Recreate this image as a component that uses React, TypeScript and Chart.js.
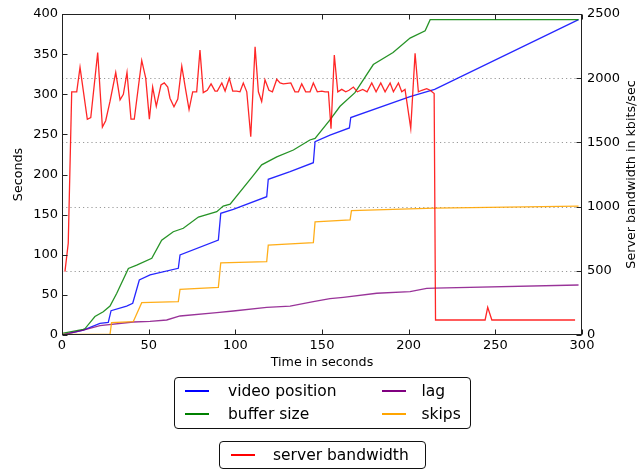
import React, { useEffect, useRef } from 'react';
import { Chart, registerables } from 'chart.js';

Chart.register(...registerables);

const FONT = '"DejaVu Sans", "Liberation Sans", sans-serif';

// ---- data ----
const videoT = [0, 12.3, 21.9, 26.7, 28.3, 37.3, 40.8, 44.6, 50.8, 67.1, 68.1, 90.2, 91.6, 98.8, 118.1, 119, 131.6, 145, 146, 154.6, 165.8, 166.6, 200.8, 215, 298];
const videoV = [0, 6.2, 14.5, 15.8, 30.3, 36.1, 39.5, 68.5, 74.8, 83.1, 99.7, 118.4, 151.6, 156.6, 172.3, 194, 203.5, 214.7, 241, 249, 258, 271, 297, 306, 393];

const bufferT = [0, 12.3, 13.3, 19, 23.8, 27.7, 31.6, 38.3, 43.1, 51.8, 57.5, 64.2, 70, 78.7, 89.3, 93, 97, 110.4, 115.2, 123.9, 133.5, 143, 146, 154.6, 160.4, 169, 179.6, 191, 200.8, 209.5, 212.4, 298];
const bufferV = [2, 7, 8, 23, 29, 36, 52, 83, 87, 95.5, 118, 128.7, 133, 147, 153.6, 160.7, 163, 199, 212, 222, 230.5, 243, 245, 268, 285, 302, 337, 352, 370, 379, 393, 393];

const lagT = [0, 12.3, 21.9, 41.1, 50.8, 60.4, 68.1, 89.3, 98.8, 118.1, 131.6, 145, 154.6, 162.3, 181.6, 200.8, 210.4, 215, 298];
const lagV = [0, 6.2, 11.6, 16.2, 17, 18.7, 23.7, 27.8, 29.9, 34.5, 36.1, 41.5, 45.3, 47, 52, 54, 58, 58.5, 62.3];

const skipsT = [0, 27.7, 28.6, 41.1, 46, 67.1, 68.1, 90.2, 91.6, 118.1, 119, 145, 146, 166.2, 167, 215, 298];
const skipsV = [0.8, 0.8, 15.4, 16.6, 40.3, 41.5, 57, 59.4, 90, 91.3, 112, 115, 141, 143.3, 155, 158, 160.7];

const bwT = [1.7, 3.6, 5.6, 8.5, 10.4, 14.6, 16.6, 20.6, 23.3, 25.2, 27.7, 31.0, 33.5, 35.4, 37.5, 39.8, 41.7, 46.0, 48.3, 50.4, 52.3, 54.4, 57.1, 59.0, 61.0, 62.3, 64.6, 66.8, 69.1, 71.4, 73.3, 75.4, 77.7, 79.6, 81.5, 83.8, 86.0, 88.3, 89.6, 92.2, 94.1, 96.5, 98.5, 100.8, 102.7, 104.6, 106.6, 108.9, 111.4, 113.3, 115.2, 117.1, 119.4, 121.4, 123.9, 125.8, 127.7, 130, 132, 134.4, 136.4, 138.3, 140.6, 143.1, 145, 147.3, 149.9, 151.8, 153.7, 155.2, 157.1, 159.1, 161.4, 163.7, 165.6, 168.1, 170.4, 173.5, 176, 178.7, 181.2, 183.9, 186.4, 189.3, 191.2, 194.1, 196, 197.9, 201.2, 203.7, 205.6, 207.6, 210.4, 212.4, 214.7, 215.5, 244.1, 245.6, 248, 296];
const bwV = [494, 714, 1894, 1894, 2085, 1680, 1694, 2200, 1619, 1669, 1819, 2044, 1831, 1875, 2044, 1681, 1681, 2138, 2000, 1681, 1931, 1781, 1947, 1963, 1931, 1844, 1778, 1838, 2094, 1906, 1756, 1894, 1894, 2219, 1888, 1906, 1956, 1900, 1900, 1963, 1900, 2000, 1900, 1900, 1894, 1963, 1894, 1544, 2244, 1894, 1819, 1988, 1906, 1894, 1991, 1963, 1956, 1960, 1963, 1894, 1894, 1956, 1894, 1894, 1963, 1894, 1900, 1894, 1894, 1606, 2181, 1894, 1913, 1894, 1906, 1931, 1894, 1913, 1894, 1963, 1894, 1963, 1894, 1963, 1894, 1963, 1894, 1913, 1610, 2194, 1894, 1906, 1919, 1906, 1881, 117, 117, 216, 117, 117];

const xTickValues = [0, 50, 100, 150, 200, 250, 300];
const leftTickValues = [0, 50, 100, 150, 200, 250, 300, 350, 400];
const rightTickValues = [0, 500, 1000, 1500, 2000, 2500];
const rightGridValues = [500, 1000, 1500, 2000];

const xTitle = 'Time in seconds';
const leftTitle = 'Seconds';
const rightTitle = 'Server bandwidth in kbits/sec';

const legendRows1 = [
  { label: 'video position', color: '#0000ff' },
  { label: 'buffer size', color: '#008000' },
];
const legendRows2 = [
  { label: 'lag', color: '#800080' },
  { label: 'skips', color: '#ffa500' },
];
const legendBw = { label: 'server bandwidth', color: '#ff0000' };

const zip = (t: number[], v: number[]) => t.map((x, i) => ({ x, y: v[i] }));

const decorPlugin = {
  id: 'decor',
  beforeDatasetsDraw(chart: any) {
    const { ctx, chartArea: a, scales } = chart;
    ctx.save();
    ctx.strokeStyle = '#9a9a9a';
    ctx.lineWidth = 1;
    ctx.setLineDash([1.2, 3]);
    for (const v of rightGridValues) {
      const y = Math.round(scales.yR.getPixelForValue(v)) + 0.5;
      ctx.beginPath();
      ctx.moveTo(a.left, y);
      ctx.lineTo(a.right, y);
      ctx.stroke();
    }
    ctx.restore();
  },
  afterDatasetsDraw(chart: any) {
    const { ctx, chartArea: a, scales } = chart;
    ctx.save();
    ctx.strokeStyle = '#222';
    ctx.lineWidth = 1;
    const L = Math.round(a.left) + 0.5, R = Math.round(a.right) - 0.5;
    const T = Math.round(a.top) + 0.5, B = Math.round(a.bottom) - 0.5;
    ctx.strokeRect(L, T, R - L, B - T);
    const len = 5;
    ctx.beginPath();
    for (const v of xTickValues) {
      const x = Math.round(scales.x.getPixelForValue(v)) + 0.5;
      ctx.moveTo(x, B); ctx.lineTo(x, B - len);
      ctx.moveTo(x, T); ctx.lineTo(x, T + len);
    }
    for (const v of leftTickValues) {
      const y = Math.round(scales.y.getPixelForValue(v)) + 0.5;
      ctx.moveTo(L, y); ctx.lineTo(L + len, y);
    }
    for (const v of rightTickValues) {
      const y = Math.round(scales.yR.getPixelForValue(v)) + 0.5;
      ctx.moveTo(R, y); ctx.lineTo(R - len, y);
    }
    ctx.stroke();
    ctx.restore();
  },
  afterDraw(chart: any) {
    const { ctx, chartArea: a } = chart;
    ctx.save();
    ctx.fillStyle = '#000';
    ctx.font = `12.7px ${FONT}`;
    ctx.textAlign = 'center';
    ctx.textBaseline = 'middle';
    ctx.fillText(xTitle, (a.left + a.right) / 2, 363);
    const midY = (a.top + a.bottom) / 2;
    ctx.save();
    ctx.translate(18.5, midY);
    ctx.rotate(-Math.PI / 2);
    ctx.fillText(leftTitle, 0, 0);
    ctx.restore();
    ctx.save();
    ctx.translate(631.5, midY);
    ctx.rotate(-Math.PI / 2);
    ctx.fillText(rightTitle, 0, 0);
    ctx.restore();
    ctx.restore();
  },
};

function LegendLine({ x, y, color }: { x: number; y: number; color: string }) {
  return <div style={{ position: 'absolute', left: x, top: y - 0.75, width: 24, height: 1.5, background: color }} />;
}

function LegendText({ x, y, text }: { x: number; y: number; text: string }) {
  return (
    <div style={{ position: 'absolute', left: x, top: y - 10, height: 20, lineHeight: '20px', fontFamily: FONT, fontSize: 15.5, color: '#000', whiteSpace: 'nowrap' }}>
      {text}
    </div>
  );
}

export default function App() {
  const ref = useRef<HTMLCanvasElement | null>(null);

  useEffect(() => {
    if (!ref.current) return;
    const tickFont = { family: FONT, size: 13 };
    const plain = (v: any) => String(v);
    const line = (label: string, data: any, color: string, axis: string) => ({
      label,
      data,
      borderColor: color,
      backgroundColor: color,
      borderWidth: 1.3,
      pointRadius: 0,
      tension: 0,
      fill: false,
      yAxisID: axis,
    });
    const chart = new Chart(ref.current, {
      type: 'line',
      data: {
        datasets: [
          line('server bandwidth', zip(bwT, bwV), 'rgba(255,0,0,0.85)', 'yR'),
          line('skips', zip(skipsT, skipsV), 'rgba(255,165,0,0.9)', 'y'),
          line('lag', zip(lagT, lagV), 'rgba(128,0,128,0.8)', 'y'),
          line('buffer size', zip(bufferT, bufferV), 'rgba(0,128,0,0.85)', 'y'),
          line('video position', zip(videoT, videoV), 'rgba(0,0,255,0.85)', 'y'),
        ],
      },
      options: {
        animation: false,
        responsive: false,
        maintainAspectRatio: false,
        parsing: false as any,
        normalized: true,
        layout: { padding: { top: 14, left: 0, right: 0, bottom: 0 } },
        plugins: { legend: { display: false }, tooltip: { enabled: false }, title: { display: false } },
        scales: {
          x: {
            type: 'linear',
            min: 0,
            max: 300,
            ticks: { stepSize: 50, padding: 3, font: tickFont, color: '#000', maxRotation: 0, autoSkip: false, callback: plain },
            grid: { display: false, drawTicks: false },
            border: { display: false },
            afterFit: (s: any) => { s.height = 469 - 335; },
          },
          y: {
            type: 'linear',
            position: 'left',
            min: 0,
            max: 400,
            ticks: { stepSize: 50, padding: 4, font: tickFont, color: '#000', callback: plain },
            grid: { display: false, drawTicks: false },
            border: { display: false },
            afterFit: (s: any) => { s.width = 62; },
          },
          yR: {
            type: 'linear',
            position: 'right',
            min: 0,
            max: 2500,
            ticks: { stepSize: 500, padding: 5, font: tickFont, color: '#000', callback: plain },
            grid: { display: false, drawTicks: false },
            border: { display: false },
            afterFit: (s: any) => { s.width = 62; },
          },
        },
      } as any,
      plugins: [decorPlugin as any],
    });
    return () => chart.destroy();
  }, []);

  return (
    <div style={{ position: 'absolute', left: 0, top: 0, width: 644, height: 469, background: '#fff', overflow: 'hidden' }}>
      <canvas ref={ref} width={644} height={469} style={{ position: 'absolute', left: 0, top: 0, width: 644, height: 469 }} />
      <div style={{ position: 'absolute', left: 174, top: 377, width: 297, height: 52, border: '1px solid #111', borderRadius: 4, boxSizing: 'border-box', background: '#fff' }} />
      {legendRows1.map((r, i) => (
        <React.Fragment key={r.label}>
          <LegendLine x={185} y={391 + i * 23} color={r.color} />
          <LegendText x={228} y={391 + i * 23} text={r.label} />
        </React.Fragment>
      ))}
      {legendRows2.map((r, i) => (
        <React.Fragment key={r.label}>
          <LegendLine x={382} y={391 + i * 23} color={r.color} />
          <LegendText x={421.5} y={391 + i * 23} text={r.label} />
        </React.Fragment>
      ))}
      <div style={{ position: 'absolute', left: 219, top: 441, width: 207, height: 28, border: '1px solid #111', borderRadius: 4, boxSizing: 'border-box', background: '#fff' }} />
      <LegendLine x={231} y={455} color={legendBw.color} />
      <LegendText x={273} y={455} text={legendBw.label} />
    </div>
  );
}
